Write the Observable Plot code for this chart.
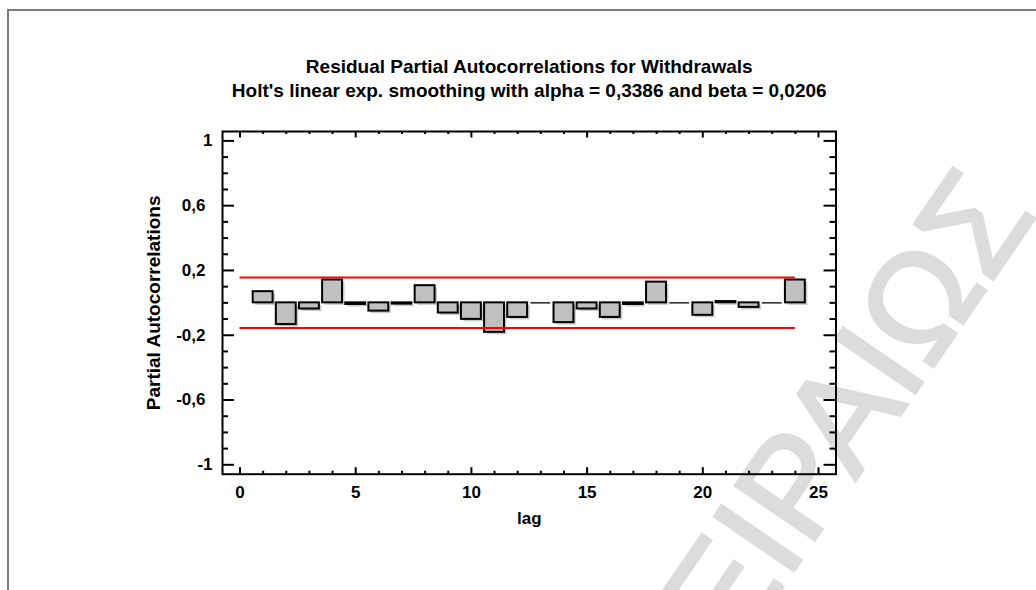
<!DOCTYPE html>
<html>
<head>
<meta charset="utf-8">
<script src="https://cdn.jsdelivr.net/npm/d3@7"></script>
<script src="https://cdn.jsdelivr.net/npm/@observablehq/plot@0.6"></script>
<style>
  html, body { margin: 0; padding: 0; background: #fff; overflow: hidden; }
  #chart { width: 1036px; height: 590px; }
</style>
</head>
<body>
<div id="chart"></div>
<script>
// Residual partial autocorrelations by lag
const lags = [1, 2, 3, 4, 5, 6, 7, 8, 9, 10, 11, 12, 13, 14, 15, 16, 17, 18, 19, 20, 21, 22, 23, 24];
const pacf = [0.069, -0.134, -0.038, 0.141, -0.010, -0.051, -0.008, 0.106, -0.063, -0.102, -0.182, -0.090,
              0.000, -0.122, -0.038, -0.090, -0.010, 0.128, 0.000, -0.077, 0.008, -0.028, 0.000, 0.141];

// 95% probability limits and the lag range they cover
const confidenceLimit = 0.156;
const limitLags = [0, 24];

// Axis ticks and labels
const xTicks = [0, 5, 10, 15, 20, 25];
const xTickLabels = ["0", "5", "10", "15", "20", "25"];
const yTicks = [-1, -0.6, -0.2, 0.2, 0.6, 1];
const yTickLabels = ["-1", "-0,6", "-0,2", "0,2", "0,6", "1"];

const titleLines = [
  "Residual Partial Autocorrelations for Withdrawals",
  "Holt's linear exp. smoothing with alpha = 0,3386 and beta = 0,0206"
];
const xLabel = "lag";
const yLabel = "Partial Autocorrelations";
const watermark = "ΠΕΙΡΑΙΩΣ";

// Layout
const width = 1036, height = 590;
const marginLeft = 222, marginRight = 200.5, marginTop = 131, marginBottom = 116.3;
const frameW = width - marginLeft - marginRight;
const frameH = height - marginTop - marginBottom;
const halfBar = 0.43;
const font = "'Liberation Sans', Arial, Helvetica, sans-serif";

const bars = lags.map((lag, i) => ({lag, v: pacf[i]}));
const flatBars = bars.filter(d => d.v === 0);
const solidBars = bars.filter(d => d.v !== 0);

const yLabelRows = yTicks.map((v, i) => ({v, label: yTickLabels[i]}));
const yIntLabels = yLabelRows.filter(d => Number.isInteger(d.v));
const yDecLabels = yLabelRows.filter(d => !Number.isInteger(d.v));

const xMinor = d3.range(xTicks[0], xTicks[xTicks.length - 1] + 1).filter(t => !xTicks.includes(t));
const yMinor = d3.range(-10, 11).map(i => i / 10).filter(t => !yTicks.some(m => Math.abs(m - t) < 1e-9));

const tickStyle = {stroke: "black", strokeWidth: 2};
const labelStyle = {fontWeight: "bold", fill: "black", lineAnchor: "middle"};

const chart = Plot.plot({
  width, height, marginLeft, marginRight, marginTop, marginBottom,
  style: {fontFamily: font, background: "transparent", color: "black"},
  x: {domain: [-0.756, 25.756], axis: null},
  y: {domain: [-1.058, 1.058], axis: null},
  marks: [
    // bar shadows
    Plot.rect(solidBars, {x1: d => d.lag - halfBar, x2: d => d.lag + halfBar, y1: () => 0, y2: "v",
      fill: "#cacaca", dx: 2.5, dy: 2.5}),
    // bars
    Plot.rect(solidBars, {x1: d => d.lag - halfBar, x2: d => d.lag + halfBar, y1: () => 0, y2: "v",
      fill: "#c0c0c0", stroke: "black", strokeWidth: 2}),
    Plot.ruleY(flatBars, {y: "v", x1: d => d.lag - halfBar, x2: d => d.lag + halfBar,
      stroke: "black", strokeWidth: 1.3}),
    // probability limits
    Plot.ruleY([confidenceLimit, -confidenceLimit], {y: d => d, x1: () => limitLags[0], x2: () => limitLags[1],
      stroke: "#ff0000", strokeWidth: 2}),
    // inward ticks on all four sides
    Plot.tickY(yMinor, {y: d => d, insetRight: frameW - 6, ...tickStyle}),
    Plot.tickY(yTicks, {y: d => d, insetRight: frameW - 12, ...tickStyle}),
    Plot.tickY(yMinor, {y: d => d, insetLeft: frameW - 6, ...tickStyle}),
    Plot.tickY(yTicks, {y: d => d, insetLeft: frameW - 12, ...tickStyle}),
    Plot.tickX(xMinor, {x: d => d, insetTop: frameH - 3, ...tickStyle}),
    Plot.tickX(xTicks, {x: d => d, insetTop: frameH - 6.5, ...tickStyle}),
    Plot.tickX(xMinor, {x: d => d, insetBottom: frameH - 3, ...tickStyle}),
    Plot.tickX(xTicks, {x: d => d, insetBottom: frameH - 6.5, ...tickStyle}),
    Plot.frame({stroke: "black", strokeWidth: 2}),
    // tick labels
    Plot.text(yIntLabels, {y: "v", text: "label", frameAnchor: "left", dx: -10,
      textAnchor: "end", fontSize: 17, ...labelStyle}),
    Plot.text(yDecLabels, {y: "v", text: "label", frameAnchor: "left", dx: -17,
      textAnchor: "end", fontSize: 17, ...labelStyle}),
    Plot.text(xTicks, {x: d => d, text: (d, i) => xTickLabels[i], frameAnchor: "bottom", dy: 18.5,
      textAnchor: "middle", fontSize: 17, ...labelStyle}),
    // axis titles
    Plot.text([xLabel], {text: d => d, frameAnchor: "bottom", dy: 44.5, textAnchor: "middle",
      fontSize: 17, ...labelStyle}),
    Plot.text([yLabel], {text: d => d, frameAnchor: "left", dx: -69, rotate: -90, textAnchor: "middle",
      fontSize: 19, ...labelStyle}),
    // chart title
    Plot.text([titleLines[0]], {text: d => d, frameAnchor: "top", dy: -65, textAnchor: "middle",
      fontSize: 19, ...labelStyle}),
    Plot.text([titleLines[1]], {text: d => d, frameAnchor: "top", dy: -41, textAnchor: "middle",
      fontSize: 19, ...labelStyle})
  ]
});

// Watermark and page border sit behind the chart
const svg = d3.select(chart);
svg.insert("text", "g")
  .attr("transform", "translate(1038,214) rotate(-55.6)")
  .attr("text-anchor", "end")
  .attr("font-family", font)
  .attr("font-size", 140)
  .attr("fill", "#dcdcdc")
  .attr("stroke", "#dcdcdc")
  .attr("stroke-width", 3)
  .text(watermark);
svg.insert("rect", "g")
  .attr("x", 8).attr("y", 10).attr("width", 2000).attr("height", 2000)
  .attr("fill", "none").attr("stroke", "#7a7a7a").attr("stroke-width", 2);

document.getElementById("chart").appendChild(chart);
</script>
</body>
</html>
